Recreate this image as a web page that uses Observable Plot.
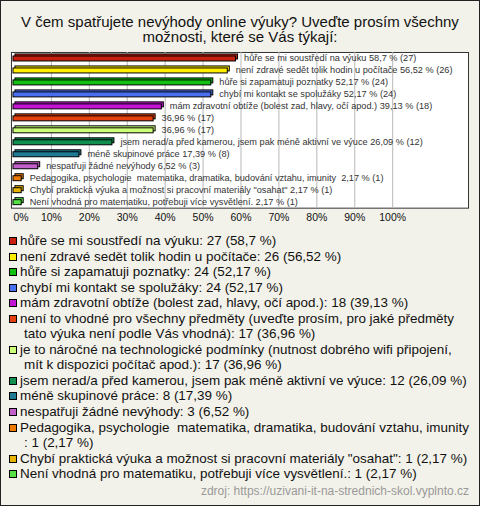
<!DOCTYPE html>
<html>
<head>
<meta charset="utf-8">
<script src="https://cdn.jsdelivr.net/npm/d3@7"></script>
<script src="https://cdn.jsdelivr.net/npm/@observablehq/plot@0.6"></script>
<style>
  html, body { margin: 0; padding: 0; background: #fff; }
  #chart {
    position: relative; width: 480px; height: 506px; box-sizing: border-box;
    border: 1px solid #222; background: #f3f2ea; overflow: hidden;
    font-family: "Liberation Sans", Arial, sans-serif; color: #111;
  }
  #title {
    position: absolute; left: 0; top: 13px; width: 478px; text-align: center;
    font-size: 15px; line-height: 15px;
  }
  #plot { position: absolute; left: -1px; top: 43px; }
  #legend {
    position: absolute; left: -1px; top: 232px; width: 469px;
    font-size: 13.45px; line-height: 15.55px; white-space: pre-wrap;
  }
  .item { position: relative; padding-left: 24px; text-indent: -4px; }
  .sw {
    position: absolute; left: 9px; top: 4px; width: 6px; height: 6px;
    border: 1px solid #000; text-indent: 0;
  }
  #source {
    position: absolute; right: 10px; top: 483px; font-size: 12px; color: #999;
  }
</style>
</head>
<body>
<div id="chart">
  <div id="title"></div>
  <div id="plot"></div>
  <div id="legend"></div>
  <div id="source"></div>
</div>
<script>
const title = "V čem spatřujete nevýhody online výuky? Uveďte prosím všechny možnosti, které se Vás týkají:";
const source = "zdroj: https://uzivani-it-na-strednich-skol.vyplnto.cz";

const names = [
  "hůře se mi soustředí na výuku",
  "není zdravé sedět tolik hodin u počítače",
  "hůře si zapamatuji poznatky",
  "chybí mi kontakt se spolužáky",
  "mám zdravotní obtíže (bolest zad, hlavy, očí apod.)",
  "není to vhodné pro všechny předměty (uveďte prosím, pro jaké předměty tato výuka není podle Vás vhodná)",
  "je to náročné na technologické podmínky (nutnost dobrého wifi připojení, mít k dispozici počítač apod.)",
  "jsem nerad/a před kamerou, jsem pak méně aktivní ve výuce",
  "méně skupinové práce",
  "nespatřuji žádné nevýhody",
  "Pedagogika, psychologie  matematika, dramatika, budování vztahu, imunity ",
  "Chybí praktická výuka a možnost si pracovní materiály \"osahat\"",
  "Není vhodná pro matematiku, potřebuji více vysvětlení."
];
const barNames = [
  "hůře se mi soustředí na výuku",
  "není zdravé sedět tolik hodin u počítače",
  "hůře si zapamatuji poznatky",
  "chybí mi kontakt se spolužáky",
  "mám zdravotní obtíže (bolest zad, hlavy, očí apod.)",
  "",
  "",
  "jsem nerad/a před kamerou, jsem pak méně aktivní ve výuce",
  "méně skupinové práce",
  "nespatřuji žádné nevýhody",
  "Pedagogika, psychologie  matematika, dramatika, budování vztahu, imunity ",
  "Chybí praktická výuka a možnost si pracovní materiály \"osahat\"",
  "Není vhodná pro matematiku, potřebuji více vysvětlení."
];
const counts = [27, 26, 24, 24, 18, 17, 17, 12, 8, 3, 1, 1, 1];
const percents = [58.7, 56.52, 52.17, 52.17, 39.13, 36.96, 36.96, 26.09, 17.39, 6.52, 2.17, 2.17, 2.17];
const colors = ["#c8200e", "#ffee00", "#11c011", "#4a6ff0", "#c214d2", "#e5400f", "#ccff77",
                "#108f4f", "#1f7a94", "#c060c8", "#ee7a00", "#e8b400", "#55e044"];
const xTicks = [0, 10, 20, 30, 40, 50, 60, 70, 80, 90, 100];

const fmt = v => String(v).replace(".", ",");
const data = names.map((n, i) => ({
  key: i, name: n, count: counts[i], pct: percents[i], color: colors[i],
  label: (barNames[i] ? barNames[i] + " " : "") + fmt(percents[i]) + " % (" + counts[i] + ")"
}));

document.getElementById("title").textContent = title;
document.getElementById("source").textContent = source;

const H = 186;
const chart = Plot.plot({
  width: 480, height: H,
  marginTop: 8, marginBottom: 22, marginLeft: 11, marginRight: 11,
  style: { background: "transparent", fontFamily: "'Liberation Sans', Arial, sans-serif", overflow: "visible" },
  x: { domain: [0, 100], range: [13, 393], axis: null },
  y: { type: "band", domain: data.map(d => d.key), range: [8, 164], padding: 0, axis: null },
  color: { type: "identity" },
  marks: [
    Plot.frame({ fill: "white", stroke: "#333", strokeWidth: 1 }),
    Plot.ruleX(xTicks.filter(t => t > 0), { x: d => d, stroke: "#b8b8b8", strokeWidth: 1 }),
    Plot.barX(data, { x: "pct", y: "key", fill: "color", stroke: "#000", strokeWidth: 1,
      insetTop: 4, insetBottom: 3, dx: 2, dy: -2 }),
    Plot.barX(data, { x: "pct", y: "key", fill: "color", stroke: "#000", strokeWidth: 1,
      insetTop: 4, insetBottom: 3 }),
    Plot.text(data, { x: "pct", y: "key", text: "label", dx: 8, dy: -0.5, textAnchor: "start",
      fontSize: 9.2, fill: "#333" }),
    Plot.text([xTicks[0]], { x: d => d, frameAnchor: "bottom", dy: 13, text: d => d + "%",
      textAnchor: "start", fontSize: 10.5, fill: "#111" }),
    Plot.text(xTicks.slice(1), { x: d => d, frameAnchor: "bottom", dy: 13, text: d => d + "%",
      textAnchor: "middle", fontSize: 10.5, fill: "#111" })
  ]
});
chart.querySelectorAll("text").forEach(t => t.style.whiteSpace = "pre");
document.getElementById("plot").appendChild(chart);

const legend = document.getElementById("legend");
data.forEach(d => {
  const item = document.createElement("div");
  item.className = "item";
  const sw = document.createElement("span");
  sw.className = "sw";
  sw.style.background = d.color;
  item.appendChild(sw);
  item.appendChild(document.createTextNode(`${d.name}: ${d.count} (${fmt(d.pct)} %)`));
  legend.appendChild(item);
});
</script>
</body>
</html>
